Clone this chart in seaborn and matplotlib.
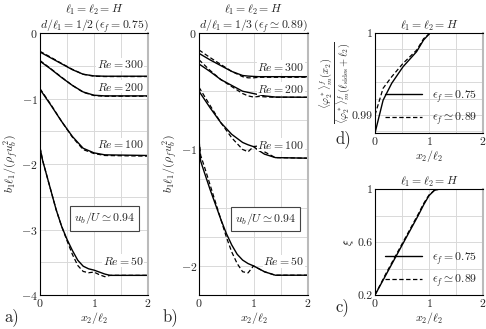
import seaborn as sns
import matplotlib.pyplot as plt
from matplotlib.ticker import MultipleLocator
from matplotlib.lines import Line2D

# ---- data ----
# panel a: d/l1 = 1/2
xa = [0, 0.2, 0.4, 0.6, 0.8, 1.0, 1.2, 2.0]
a300_s = [-0.29, -0.38, -0.47, -0.56, -0.63, -0.655, -0.66, -0.66]
a300_d = [-0.28, -0.37, -0.465, -0.555, -0.63, -0.66, -0.665, -0.665]
a200_s = [-0.43, -0.55, -0.68, -0.80, -0.90, -0.95, -0.96, -0.96]
a200_d = [-0.42, -0.545, -0.675, -0.80, -0.905, -0.955, -0.965, -0.965]
a100_s = [-0.86, -1.10, -1.35, -1.58, -1.76, -1.83, -1.86, -1.87]
a100_d = [-0.85, -1.09, -1.35, -1.59, -1.78, -1.84, -1.87, -1.88]
xa50 = [0, 0.05, 0.1, 0.2, 0.3, 0.4, 0.5, 0.6, 0.7, 0.8, 0.9, 1.0, 1.1, 1.2, 1.3, 1.5, 2.0]
a50_s = [-1.75, -1.95, -2.1, -2.4, -2.7, -2.95, -3.15, -3.32, -3.47, -3.56, -3.60, -3.62,
         -3.65, -3.68, -3.70, -3.70, -3.70]
a50_d = [-1.75, -1.95, -2.1, -2.4, -2.7, -2.95, -3.17, -3.38, -3.55, -3.64, -3.66, -3.65,
         -3.69, -3.72, -3.70, -3.70, -3.70]

# panel b: d/l1 = 1/3
xb = [0, 0.2, 0.4, 0.6, 0.8, 0.9, 1.0, 1.1, 1.2, 1.4, 2.0]
b300_s = [-0.175, -0.23, -0.28, -0.33, -0.365, -0.37, -0.373, -0.375, -0.375, -0.375, -0.375]
b300_d = [-0.146, -0.21, -0.27, -0.33, -0.375, -0.385, -0.385, -0.38, -0.38, -0.38, -0.38]
b200_s = [-0.266, -0.33, -0.40, -0.45, -0.50, -0.51, -0.52, -0.53, -0.54, -0.55, -0.552]
b200_d = [-0.23, -0.32, -0.40, -0.46, -0.52, -0.54, -0.55, -0.545, -0.548, -0.552, -0.552]
b100_s = [-0.50, -0.64, -0.77, -0.87, -0.94, -0.96, -0.976, -1.01, -1.04, -1.07, -1.075]
b100_d = [-0.466, -0.62, -0.77, -0.90, -1.00, -1.02, -0.975, -0.97, -1.02, -1.07, -1.075]
xb50 = [0, 0.03, 0.1, 0.2, 0.3, 0.4, 0.5, 0.6, 0.7, 0.8, 0.9, 1.0, 1.2, 1.4, 2.0]
b50_s = [-0.92, -1.10, -1.20, -1.34, -1.47, -1.60, -1.72, -1.82, -1.90, -1.95, -1.98, -2.00,
         -2.05, -2.08, -2.08]
b50_d = [-0.92, -1.05, -1.15, -1.30, -1.45, -1.60, -1.75, -1.88, -1.98, -2.05, -2.06, -2.00,
         -2.05, -2.08, -2.08]

# panel d: normalised phi
xd = [0, 0.15, 0.31, 0.52, 0.77, 0.9, 1.02, 1.1, 2.0]
d_s = [0.9878, 0.9918, 0.99387, 0.99589, 0.99772, 0.99915, 1.0, 1.0, 1.0]
d_d = [0.9900, 0.99326, 0.99467, 0.9963, 0.9979, 0.9993, 1.0, 1.0, 1.0]

# panel c: xi
xc = [0, 0.2, 0.4, 0.6, 0.8, 0.9, 1.0, 1.1, 1.2, 2.0]
c_s = [0.2, 0.35, 0.5, 0.65, 0.8, 0.88, 0.95, 0.99, 1.0, 1.0]
c_d = [0.2, 0.36, 0.51, 0.66, 0.81, 0.89, 0.955, 0.99, 1.0, 1.0]

sns.set_style("whitegrid")
plt.rcParams['font.family'] = ['serif']
plt.rcParams['font.serif'] = ['cmr10', 'DejaVu Serif']
plt.rcParams['mathtext.fontset'] = 'cm'
plt.rcParams['axes.formatter.use_mathtext'] = True
plt.rcParams['axes.unicode_minus'] = True

FS = 8.5
DASH = (0, (3.5, 2))
fig = plt.figure(figsize=(4.86, 3.29), dpi=100)
axa = fig.add_axes([0.0823, 0.1033, 0.2222, 0.7964])
axb = fig.add_axes([0.4095, 0.1033, 0.2243, 0.7964])
axd = fig.add_axes([0.7716, 0.5957, 0.2222, 0.3040])
axc = fig.add_axes([0.7716, 0.1033, 0.2222, 0.3222])


def draw(ax, x, ys, yd):
    sns.lineplot(x=x, y=ys, ax=ax, color='k', lw=1.0, linestyle='-')
    sns.lineplot(x=x, y=yd, ax=ax, color='k', lw=0.9, linestyle=DASH)


def style(ax):
    ax.grid(True, which='both', color='#d9d9d9', lw=0.7)
    ax.set_axisbelow(True)
    for s in ax.spines.values():
        s.set_color('k')
        s.set_linewidth(0.8)
    ax.spines['right'].set_color('#bbbbbb')
    ax.spines['right'].set_linewidth(1.5)
    ax.tick_params(which='major', length=3, width=0.6, labelsize=FS, pad=1.5, direction='in')
    ax.tick_params(which='minor', length=0)
    ax.set_xlim(0, 2)
    ax.xaxis.set_major_locator(MultipleLocator(1))
    ax.xaxis.set_minor_locator(MultipleLocator(0.5))
    ax.set_xlabel(r'$x_2/\ell_2$', fontsize=FS, labelpad=1)


# panel a
draw(axa, xa, a300_s, a300_d)
draw(axa, xa, a200_s, a200_d)
draw(axa, xa, a100_s, a100_d)
draw(axa, xa50, a50_s, a50_d)
style(axa)
axa.set_ylim(-4, 0)
axa.yaxis.set_major_locator(MultipleLocator(1))
axa.yaxis.set_minor_locator(MultipleLocator(0.5))
axa.set_ylabel(r'$b_1\ell_1/(\rho_f u_b^2)$', fontsize=FS, labelpad=1)
axa.set_title('$\\ell_1 = \\ell_2 = H$\n$d/\\ell_1 = 1/2\\,(\\epsilon_f = 0.75)$',
              fontsize=FS, pad=3, linespacing=1.1)
for y, t in [(-0.48, '300'), (-0.82, '200'), (-1.70, '100'), (-3.48, '50')]:
    axa.text(1.92, y, '$Re = %s$' % t, ha='right', va='center', fontsize=FS,
             bbox=dict(fc='white', ec='none', pad=0.3))
axa.text(1.2, -2.83, r'$u_b/U \simeq 0.94$', ha='center', va='center', fontsize=FS,
         bbox=dict(fc='white', ec='#444444', lw=0.8, pad=3))

# panel b
draw(axb, xb, b300_s, b300_d)
draw(axb, xb, b200_s, b200_d)
draw(axb, xb, b100_s, b100_d)
draw(axb, xb50, b50_s, b50_d)
style(axb)
axb.set_ylim(-2.25, 0)
axb.yaxis.set_major_locator(MultipleLocator(1))
axb.yaxis.set_minor_locator(MultipleLocator(0.25))
axb.set_ylabel(r'$b_1\ell_1/(\rho_f u_b^2)$', fontsize=FS, labelpad=1)
axb.set_title('$\\ell_1 = \\ell_2 = H$\n$d/\\ell_1 = 1/3\\,(\\epsilon_f \\simeq 0.89)$',
              fontsize=FS, pad=3, linespacing=1.1)
for y, t in [(-0.29, '300'), (-0.48, '200'), (-0.96, '100'), (-1.96, '50')]:
    axb.text(1.93, y, '$Re = %s$' % t, ha='right', va='center', fontsize=FS,
             bbox=dict(fc='white', ec='none', pad=0.3))
axb.text(1.22, -1.6, r'$u_b/U \simeq 0.94$', ha='center', va='center', fontsize=FS,
         bbox=dict(fc='white', ec='#444444', lw=0.8, pad=3))

handles = [Line2D([], [], color='k', lw=1.0),
           Line2D([], [], color='k', lw=0.9, linestyle=DASH)]
labels = [r'$\epsilon_f = 0.75$', r'$\epsilon_f \simeq 0.89$']

# panel d
draw(axd, xd, d_s, d_d)
style(axd)
axd.set_ylim(0.9878, 1.0)
axd.set_yticks([0.99, 1.0])
axd.set_yticklabels(['0.99', '1'])
axd.yaxis.set_minor_locator(MultipleLocator(0.002))
axd.set_ylabel(r'$\dfrac{\langle\varphi_2^*\rangle^f_m(x_2)}'
               r'{\langle\varphi_2^*\rangle^f_m(\ell_{\rm sides}+\ell_2)}$',
               fontsize=7.5, labelpad=0)
axd.set_title(r'$\ell_1 = \ell_2 = H$', fontsize=FS, pad=3)
axd.legend(handles, labels, loc='lower right', frameon=False, fontsize=FS,
           handlelength=3.2, borderaxespad=0.1, labelspacing=0.5)

# panel c
draw(axc, xc, c_s, c_d)
style(axc)
axc.set_ylim(0.2, 1.0)
axc.set_yticks([0.2, 0.6, 1.0])
axc.set_yticklabels(['0.2', '0.6', '1'])
axc.yaxis.set_minor_locator(MultipleLocator(0.2))
axc.set_ylabel(r'$\xi$', fontsize=FS, labelpad=1)
axc.set_title(r'$\ell_1 = \ell_2 = H$', fontsize=FS, pad=3)
axc.legend(handles, labels, loc='lower right', frameon=False, fontsize=FS,
           handlelength=3.2, borderaxespad=0.1, labelspacing=0.5)

for x, y, t in [(0.01, 0.025, 'a)'), (0.335, 0.025, 'b)'), (0.69, 0.055, 'c)'),
                (0.69, 0.565, 'd)')]:
    fig.text(x, y, t, fontsize=12)

fig.savefig('out.png', dpi=100)
